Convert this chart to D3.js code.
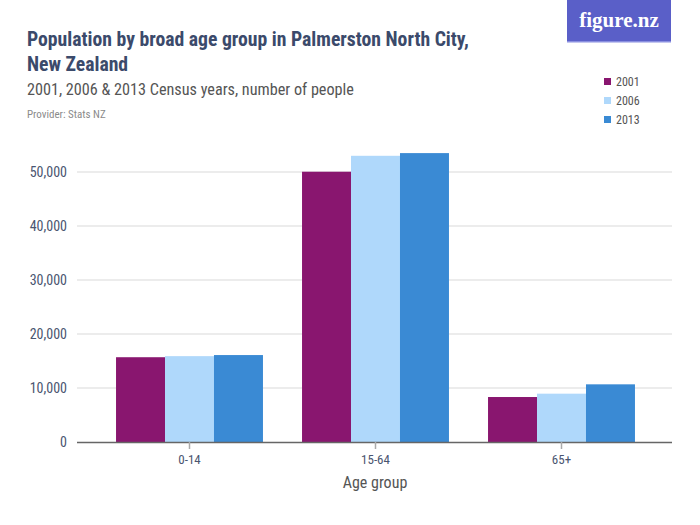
<!DOCTYPE html>
<html>
<head>
<meta charset="utf-8">
<script src="https://cdn.jsdelivr.net/npm/d3@7"></script>
<style>
  html, body { margin: 0; padding: 0; background: #fff; }
  svg { display: block; }
</style>
</head>
<body>
<svg id="chart" width="700" height="525"></svg>
<script>
const categories = ["0-14", "15-64", "65+"];
const seriesNames = ["2001", "2006", "2013"];
const values2001 = [15700, 50050, 8330];
const values2006 = [15900, 53000, 8950];
const values2013 = [16100, 53500, 10680];
const yTicks = [0, 10000, 20000, 30000, 40000, 50000];
const colors = ["#89166f", "#afd8fb", "#3a8ad4"];

const seriesValues = [values2001, values2006, values2013];
const svg = d3.select("#chart");
const condensed = "'Liberation Sans Narrow', 'Roboto Condensed', 'Arial Narrow', sans-serif";

// Header
svg.append("text").attr("x", 27).attr("y", 46)
  .attr("font-family", condensed).attr("font-size", 19.7).attr("font-weight", "bold")
  .attr("fill", "#3b4a6b").text("Population by broad age group in Palmerston North City,");
svg.append("text").attr("x", 27).attr("y", 71)
  .attr("font-family", condensed).attr("font-size", 19.7).attr("font-weight", "bold")
  .attr("fill", "#3b4a6b").text("New Zealand");
svg.append("text").attr("x", 27).attr("y", 95)
  .attr("font-family", condensed).attr("font-size", 16.2)
  .attr("fill", "#555").text("2001, 2006 & 2013 Census years, number of people");
svg.append("text").attr("x", 27).attr("y", 118)
  .attr("font-family", condensed).attr("font-size", 11)
  .attr("fill", "#8a8a8a").text("Provider: Stats NZ");

// Logo
svg.append("rect").attr("x", 567).attr("y", 0).attr("width", 104).attr("height", 42).attr("fill", "#5a5fc8");
svg.append("rect").attr("x", 567).attr("y", 41).attr("width", 104).attr("height", 1.5).attr("fill", "#8a8fe0");
svg.append("text").attr("x", 619).attr("y", 27).attr("text-anchor", "middle")
  .attr("font-family", "'Liberation Serif', 'DejaVu Serif', serif").attr("font-size", 21).attr("font-weight", "bold")
  .attr("fill", "#fff").text("figure.nz");

// Legend
const legend = svg.append("g");
seriesNames.forEach((s, i) => {
  const g = legend.append("g").attr("transform", `translate(604, ${78 + i * 19})`);
  g.append("rect").attr("x", 0).attr("y", 0).attr("width", 7).attr("height", 7).attr("fill", colors[i]);
  g.append("text").attr("x", 12).attr("y", 7.5)
    .attr("font-family", condensed).attr("font-size", 12).attr("fill", "#555").text(s);
});

// Scales
const x0 = d3.scaleBand().domain(categories).range([96.5, 654.5]).paddingInner(0.21).paddingOuter(0.105);
const x1 = d3.scaleBand().domain(seriesNames).range([0, x0.bandwidth()]);
const y = d3.scaleLinear().domain([0, 50000]).range([442, 172]);

// Grid
svg.append("g").selectAll("line").data(yTicks.filter(d => d > 0)).join("line")
  .attr("x1", 77).attr("x2", 672)
  .attr("y1", d => y(d)).attr("y2", d => y(d))
  .attr("stroke", "#d9d9d9").attr("stroke-width", 1);

// Y axis labels
const yAxis = d3.axisLeft(y).tickValues(yTicks).tickSize(0).tickPadding(0)
  .tickFormat(d3.format(","));
const yg = svg.append("g").attr("transform", "translate(67,0)").call(yAxis);
yg.select(".domain").remove();
yg.selectAll("text").attr("font-family", condensed).attr("font-size", 14).attr("fill", "#4a5570");

// Bars
const groups = svg.append("g").selectAll("g").data(categories).join("g")
  .attr("transform", d => `translate(${x0(d)},0)`);
groups.selectAll("rect").data((d, i) => seriesNames.map((s, j) => ({ s, v: seriesValues[j][i], c: colors[j] })))
  .join("rect")
  .attr("x", d => x1(d.s)).attr("width", x1.bandwidth())
  .attr("y", d => y(d.v)).attr("height", d => y(0) - y(d.v))
  .attr("fill", d => d.c);

// X axis
const xAxis = d3.axisBottom(x0).tickSize(7).tickPadding(6);
const xg = svg.append("g").attr("transform", "translate(0,442)").call(xAxis);
xg.select(".domain").attr("d", "M77,0.5H672").attr("stroke", "#666").attr("stroke-width", 1.5);
xg.selectAll(".tick line").attr("stroke", "#aaa").attr("stroke-width", 1.5);
xg.selectAll("text").attr("font-family", condensed).attr("font-size", 13).attr("fill", "#4a5570");

svg.append("text").attr("x", 375).attr("y", 488).attr("text-anchor", "middle")
  .attr("font-family", condensed).attr("font-size", 16).attr("fill", "#555").text("Age group");
</script>
</body>
</html>
